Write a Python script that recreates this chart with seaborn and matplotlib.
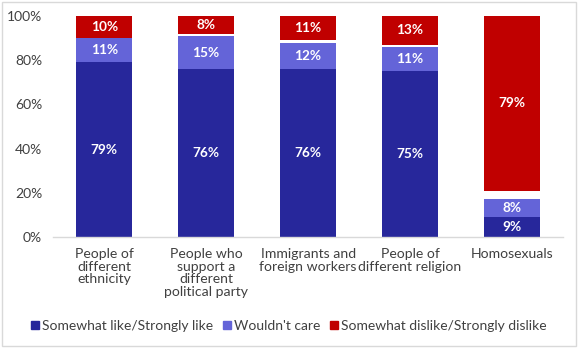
import matplotlib
matplotlib.use("Agg")
import matplotlib.pyplot as plt
from matplotlib.patches import Rectangle
from matplotlib.lines import Line2D
import seaborn as sns
import pandas as pd

# Attitudes towards different groups (% of respondents)
categories = [
    "People of\ndifferent\nethnicity",
    "People who\nsupport a\ndifferent\npolitical party",
    "Immigrants and\nforeign workers",
    "People of\ndifferent religion",
    "Homosexuals",
]
like = [79, 76, 76, 75, 9]
wouldnt_care = [11, 15, 12, 11, 8]
dislike = [10, 8, 11, 13, 79]
series_names = ["Somewhat like/Strongly like", "Wouldn't care", "Somewhat dislike/Strongly dislike"]
y_ticks = [0, 20, 40, 60, 80, 100]

DARK = "#27279B"
LIGHT = "#6464D8"
RED = "#C00000"
TEXT = "#404040"

sns.set_theme(style="white")
plt.rcParams["font.family"] = ["Lato", "DejaVu Sans"]

df = pd.DataFrame({
    "category": categories,
    "like": like,
    "care": wouldnt_care,
    "dislike": dislike,
})
df["like_care"] = df["like"] + df["care"]
df["dislike_bottom"] = 100 - df["dislike"]
df["full"] = 100

fig = plt.figure(figsize=(5.78, 3.49), dpi=100)
ax = fig.add_axes([0.092, 0.321, 0.882, 0.633])

bw = 0.55
bar_kw = dict(saturation=1, width=bw, linewidth=0, ax=ax)
# Layered bars: red runs to 100, the unanswered share sits white beneath it,
# then the two blue shares stacked from zero.
sns.barplot(data=df, x="category", y="full", color=RED, **bar_kw)
sns.barplot(data=df, x="category", y="dislike_bottom", color="white", **bar_kw)
sns.barplot(data=df, x="category", y="like_care", color=LIGHT, **bar_kw)
sns.barplot(data=df, x="category", y="like", color=DARK, **bar_kw)

# Segment value labels
for i, row in df.iterrows():
    segs = [(0, row["like"]), (row["like"], row["care"]), (row["dislike_bottom"], row["dislike"])]
    for bottom, val in segs:
        ax.text(i, bottom + val / 2, f"{val}%", ha="center", va="center",
                color="white", fontsize=9.8, fontweight="bold")

ax.set_xlim(-0.5, 4.5)
ax.set_ylim(0, 100)
ax.set_yticks(y_ticks)
ax.set_yticklabels([f"{t}%" for t in y_ticks])
ax.set_xlabel("")
ax.set_ylabel("")
ax.tick_params(axis="both", length=0, labelcolor=TEXT)
ax.tick_params(axis="x", pad=8, labelsize=10.1)
ax.tick_params(axis="y", pad=8, labelsize=10)
for lbl in ax.get_xticklabels():
    lbl.set_va("top")
    lbl.set_linespacing(1.05)
for side in ["top", "right", "left"]:
    ax.spines[side].set_visible(False)
ax.spines["bottom"].set_color("#D9D9D9")
ax.spines["bottom"].set_linewidth(1)

handles = [Line2D([0], [0], marker="s", linestyle="", markersize=6, color=c)
           for c in [DARK, LIGHT, RED]]
fig.legend(handles, series_names, loc="center", bbox_to_anchor=(0.5, 0.066), ncol=3,
           frameon=False, fontsize=10, handlelength=0.6, handletextpad=0.2,
           columnspacing=0.7, labelcolor=TEXT)

fig.patches.append(Rectangle((0.004, 0.008), 0.992, 0.986, transform=fig.transFigure,
                             fill=False, edgecolor="#D9D9D9", linewidth=1))

fig.savefig("out.png", dpi=100)
